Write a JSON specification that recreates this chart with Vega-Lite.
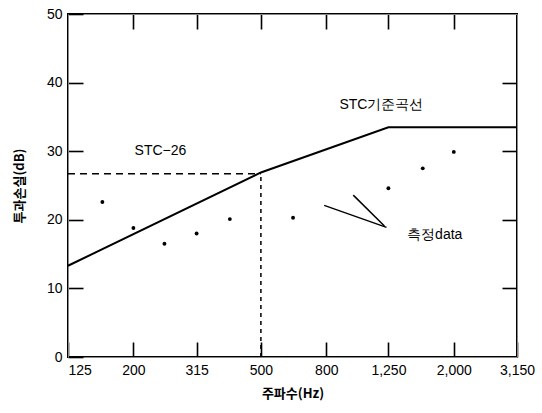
{
  "$schema": "https://vega.github.io/schema/vega-lite/v6.json",
  "width": 449,
  "height": 343,
  "autosize": "none",
  "padding": {"left": 68, "top": 14, "right": 25, "bottom": 56},
  "background": "white",
  "config": {"view": {"stroke": "black", "strokeWidth": 2}},
  "datasets": {
    "stc": [
      {"f": 125, "v": 13.3},
      {"f": 500, "v": 26.9},
      {"f": 1250, "v": 33.5},
      {"f": 3150, "v": 33.5}
    ],
    "meas": [
      {"f": 160, "v": 22.6},
      {"f": 200, "v": 18.8},
      {"f": 250, "v": 16.5},
      {"f": 315, "v": 18.0},
      {"f": 400, "v": 20.1},
      {"f": 630, "v": 20.3},
      {"f": 1250, "v": 24.6},
      {"f": 1600, "v": 27.5},
      {"f": 2000, "v": 29.9}
    ],
    "hdash": [{"f": 125, "f2": 500, "v": 26.7}],
    "vdash": [{"f": 500, "v": 0, "v2": 26.7}],
    "arrows": [
      {"f": 788, "v": 22.1, "f2": 1233, "v2": 18.9},
      {"f": 971, "v": 23.6, "f2": 1215, "v2": 19.1}
    ],
    "labels": [
      {"f": 243, "v": 30.1, "t": "STC−26", "font": "Liberation Sans"},
      {"f": 1189, "v": 36.7, "t": "STC기준곡선", "font": "Noto Sans CJK KR"},
      {"f": 1744, "v": 17.8, "t": "측정data", "font": "Noto Sans CJK KR"}
    ]
  },
  "layer": [
    {
      "layer": [
        {
          "data": {"name": "stc"},
          "mark": {"type": "line", "color": "black", "strokeWidth": 2},
          "encoding": {
            "x": {
              "field": "f", "type": "quantitative",
              "scale": {"type": "log", "domain": [125, 3150], "nice": false},
              "axis": {
                "orient": "bottom",
                "values": [125, 200, 315, 500, 800, 1250, 2000, 3150],
                "format": ",d",
                "grid": false,
                "ticks": true, "tickSize": -15, "tickColor": "black", "tickWidth": 1.6,
                "labelPadding": 21,
                "labelColor": "black", "labelFont": "Liberation Sans", "labelFontSize": 14,
                "labelAlign": {"condition": {"test": "datum.value == 125", "value": "left"}, "value": "center"},
                "title": "주파수(Hz)",
                "titleColor": "black", "titleFont": "Noto Sans CJK KR", "titleFontSize": 13, "titleFontWeight": "bold",
                "titlePadding": 10
              }
            },
            "y": {
              "field": "v", "type": "quantitative",
              "scale": {"domain": [0, 50], "nice": false},
              "axis": {
                "orient": "left",
                "values": [0, 10, 20, 30, 40, 50],
                "grid": false,
                "ticks": true, "tickSize": -15, "tickColor": "black", "tickWidth": 1.6,
                "labelPadding": 21,
                "labelColor": "black", "labelFont": "Liberation Sans", "labelFontSize": 14,
                "title": "투과손실(dB)",
                "titleColor": "black", "titleFont": "Noto Sans CJK KR", "titleFontSize": 13, "titleFontWeight": "bold",
                "titlePadding": 20
              }
            }
          }
        },
        {
          "data": {"name": "hdash"},
          "mark": {"type": "rule", "color": "black", "strokeWidth": 1.5, "strokeDash": [7, 5]},
          "encoding": {
            "x": {"field": "f", "type": "quantitative"},
            "x2": {"field": "f2"},
            "y": {"field": "v", "type": "quantitative"}
          }
        },
        {
          "data": {"name": "vdash"},
          "mark": {"type": "rule", "color": "black", "strokeWidth": 1.5, "strokeDash": [4, 4]},
          "encoding": {
            "x": {"field": "f", "type": "quantitative"},
            "y": {"field": "v", "type": "quantitative"},
            "y2": {"field": "v2"}
          }
        },
        {
          "data": {"name": "arrows"},
          "mark": {"type": "rule", "color": "black", "strokeWidth": 1.5},
          "encoding": {
            "x": {"field": "f", "type": "quantitative"},
            "x2": {"field": "f2"},
            "y": {"field": "v", "type": "quantitative"},
            "y2": {"field": "v2"}
          }
        },
        {
          "data": {"name": "labels"},
          "mark": {"type": "text", "color": "black", "fontSize": 14, "align": "center", "baseline": "middle"},
          "encoding": {
            "x": {"field": "f", "type": "quantitative"},
            "y": {"field": "v", "type": "quantitative"},
            "text": {"field": "t"},
            "font": {"field": "font", "type": "nominal", "scale": null}
          }
        }
      ]
    },
    {
      "data": {"name": "meas"},
      "mark": {"type": "point", "filled": true, "color": "black", "size": 15, "opacity": 1},
      "encoding": {
        "x": {
          "field": "f", "type": "quantitative",
          "axis": {
            "orient": "top", "values": [200, 315, 500, 800, 1250, 2000],
            "grid": false, "labels": false, "title": null,
            "ticks": true, "tickSize": -15, "tickColor": "black", "tickWidth": 1.6
          }
        },
        "y": {
          "field": "v", "type": "quantitative",
          "axis": {
            "orient": "right", "values": [10, 20, 30, 40],
            "grid": false, "labels": false, "title": null,
            "ticks": true, "tickSize": -15, "tickColor": "black", "tickWidth": 1.6
          }
        }
      }
    }
  ],
  "resolve": {"axis": {"x": "independent", "y": "independent"}}
}
